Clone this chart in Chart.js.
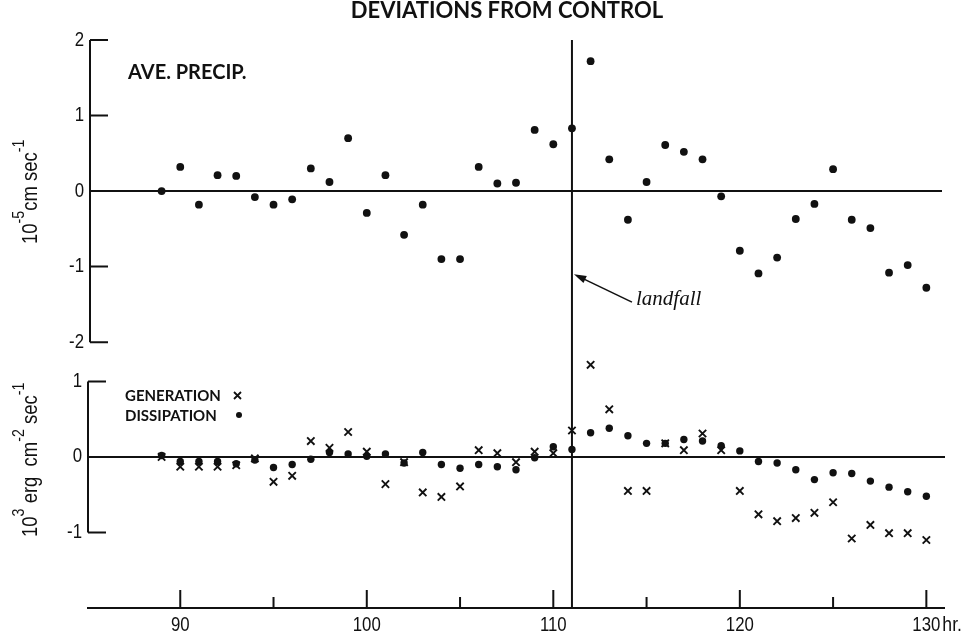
<!DOCTYPE html>
<html>
<head>
<meta charset="utf-8">
<title>Deviations from control</title>
<script src="https://cdn.jsdelivr.net/npm/chart.js@4.4.1/dist/chart.umd.min.js"></script>
<style>
  html, body { margin: 0; padding: 0; background: #fff; }
  #wrap { position: relative; width: 973px; height: 636px; }
</style>
</head>
<body>
<div id="wrap"><canvas id="chart" width="973" height="636"></canvas></div>
<script>
// hours after start of run
const hours = [89, 90, 91, 92, 93, 94, 95, 96, 97, 98, 99, 100, 101, 102, 103, 104, 105, 106, 107, 108, 109,
               110, 111, 112, 113, 114, 115, 116, 117, 118, 119, 120, 121, 122, 123, 124, 125, 126, 127, 128, 129, 130];

// average precipitation deviation, 10^-5 cm/sec
const precip = [0.00, 0.32, -0.18, 0.21, 0.20, -0.08, -0.18, -0.11, 0.30, 0.12, 0.70, -0.29, 0.21, -0.58, -0.18, -0.90, -0.90, 0.32, 0.10, 0.11, 0.81,
                0.62, 0.83, 1.72, 0.42, -0.38, 0.12, 0.61, 0.52, 0.42, -0.07, -0.79, -1.09, -0.88, -0.37, -0.17, 0.29, -0.38, -0.49, -1.08, -0.98, -1.28];

// kinetic energy generation / dissipation deviation, 10^3 erg/cm2/sec
const generation = [0.00, -0.13, -0.13, -0.13, -0.11, -0.02, -0.33, -0.25, 0.21, 0.12, 0.33, 0.07, -0.36, -0.07, -0.47, -0.53, -0.39, 0.09, 0.05, -0.07, 0.07,
                    0.05, 0.35, 1.22, 0.63, -0.45, -0.45, 0.18, 0.09, 0.31, 0.09, -0.45, -0.76, -0.85, -0.81, -0.74, -0.60, -1.08, -0.90, -1.01, -1.01, -1.10];
const dissipation = [0.02, -0.06, -0.06, -0.06, -0.09, -0.04, -0.14, -0.10, -0.03, 0.06, 0.04, 0.01, 0.04, -0.08, 0.06, -0.10, -0.15, -0.10, -0.13, -0.17, -0.01,
                     0.135, 0.10, 0.32, 0.38, 0.28, 0.18, 0.18, 0.23, 0.21, 0.15, 0.08, -0.06, -0.08, -0.17, -0.30, -0.21, -0.22, -0.32, -0.40, -0.46, -0.52];

const xMajorTicks = [90, 100, 110, 120, 130];
const xMinorTicks = [95, 105, 115, 125];
const precipTicks = [2, 1, 0, -1, -2];
const energyTicks = [1, 0, -1];
const landfallHour = 111;

const NUM_FONT = '"Liberation Sans", Arial, sans-serif';
const BOLD_FONT = 'Lato, "DejaVu Sans", sans-serif';
const INK = '#111';
const NARROW = 0.84;   // horizontal squeeze for the condensed figures

function toPoints(values) {
  return hours.map((h, i) => ({ x: h, y: values[i] }));
}

// condensed text: squeeze horizontally around the anchor point
function fillNarrow(ctx, text, x, y) {
  ctx.save();
  ctx.translate(x, y);
  ctx.scale(NARROW, 1);
  ctx.fillText(text, 0, 0);
  ctx.restore();
}

// rotated axis title made of normal and superscript runs
function drawRotatedTitle(ctx, x, y, runs, size) {
  ctx.save();
  ctx.translate(x, y);
  ctx.rotate(-Math.PI / 2);
  ctx.scale(NARROW, 1);
  ctx.textAlign = 'left';
  ctx.textBaseline = 'alphabetic';
  let pos = 0;
  runs.forEach(r => {
    ctx.font = (r.sup ? Math.round(size * 0.75) : size) + 'px ' + NUM_FONT;
    ctx.fillText(r.t, pos, r.sup ? -size * 0.6 : 0);
    pos += ctx.measureText(r.t).width;
  });
  ctx.restore();
}

const axesPlugin = {
  id: 'panelAxes',
  beforeDatasetsDraw(chart) {
    const { ctx, chartArea: area, scales } = chart;
    const xs = scales.x, yt = scales.yTop, yb = scales.yBot;
    ctx.save();
    ctx.strokeStyle = INK;
    ctx.fillStyle = INK;
    ctx.lineWidth = 2;
    ctx.lineCap = 'butt';

    // upper panel: vertical axis, inward ticks, zero line
    const topX = area.left + 3;
    ctx.beginPath();
    ctx.moveTo(topX, yt.getPixelForValue(2));
    ctx.lineTo(topX, yt.getPixelForValue(-2));
    precipTicks.forEach(v => {
      const py = yt.getPixelForValue(v);
      ctx.moveTo(topX, py);
      ctx.lineTo(topX + 18, py);
    });
    ctx.moveTo(topX, yt.getPixelForValue(0));
    ctx.lineTo(area.right - 3, yt.getPixelForValue(0));
    ctx.stroke();

    ctx.font = '20px ' + NUM_FONT;
    ctx.textAlign = 'right';
    ctx.textBaseline = 'middle';
    precipTicks.forEach(v => fillNarrow(ctx, String(v), topX - 6, yt.getPixelForValue(v)));

    // lower panel
    const botX = area.left + 1;
    ctx.beginPath();
    ctx.moveTo(botX, yb.getPixelForValue(1));
    ctx.lineTo(botX, yb.getPixelForValue(-1));
    energyTicks.forEach(v => {
      const py = yb.getPixelForValue(v);
      ctx.moveTo(botX, py);
      ctx.lineTo(botX + 18, py);
    });
    ctx.moveTo(botX, yb.getPixelForValue(0));
    ctx.lineTo(area.right, yb.getPixelForValue(0));
    ctx.stroke();
    energyTicks.forEach(v => fillNarrow(ctx, String(v), botX - 6, yb.getPixelForValue(v)));

    // time axis with upward ticks
    const base = area.bottom;
    ctx.beginPath();
    ctx.moveTo(area.left, base);
    ctx.lineTo(area.right, base);
    xMajorTicks.forEach(h => {
      const px = xs.getPixelForValue(h);
      ctx.moveTo(px, base);
      ctx.lineTo(px, base - 18);
    });
    xMinorTicks.forEach(h => {
      const px = xs.getPixelForValue(h);
      ctx.moveTo(px, base);
      ctx.lineTo(px, base - 11);
    });
    ctx.stroke();

    ctx.textAlign = 'center';
    ctx.textBaseline = 'alphabetic';
    xMajorTicks.forEach(h => fillNarrow(ctx, String(h), xs.getPixelForValue(h), base + 23));
    ctx.font = '21px ' + NUM_FONT;
    ctx.textAlign = 'left';
    fillNarrow(ctx, 'hr.', xs.getPixelForValue(130) + 16, base + 23);

    // landfall marker
    const lx = xs.getPixelForValue(landfallHour);
    ctx.beginPath();
    ctx.moveTo(lx, area.top);
    ctx.lineTo(lx, base);
    ctx.stroke();

    const tipX = lx + 2, tipY = yt.getPixelForValue(-1.1);
    const tailX = tipX + 58, tailY = tipY + 28;
    ctx.lineWidth = 1.6;
    ctx.beginPath();
    ctx.moveTo(tailX, tailY);
    ctx.lineTo(tipX + 8, tipY + 4);
    ctx.stroke();
    const ang = Math.atan2(tipY - tailY, tipX - tailX);
    ctx.beginPath();
    ctx.moveTo(tipX, tipY);
    ctx.lineTo(tipX - 13 * Math.cos(ang - 0.3), tipY - 13 * Math.sin(ang - 0.3));
    ctx.lineTo(tipX - 13 * Math.cos(ang + 0.3), tipY - 13 * Math.sin(ang + 0.3));
    ctx.closePath();
    ctx.fill();

    ctx.font = 'italic 21px "Liberation Serif", "DejaVu Serif", serif';
    ctx.fillText('landfall', tailX + 4, tailY + 3);
    ctx.restore();
  },
  afterDatasetsDraw(chart) {
    const { ctx } = chart;
    ctx.save();
    ctx.fillStyle = INK;
    ctx.strokeStyle = INK;

    ctx.font = 'bold 22px ' + BOLD_FONT;
    ctx.textAlign = 'center';
    ctx.textBaseline = 'alphabetic';
    ctx.fillText('DEVIATIONS FROM CONTROL', 507, 18);

    ctx.textAlign = 'left';
    ctx.font = 'bold 20px ' + BOLD_FONT;
    ctx.fillText('AVE. PRECIP.', 128, 79);

    ctx.font = 'bold 15px ' + BOLD_FONT;
    ctx.fillText('GENERATION', 125, 401);
    ctx.fillText('DISSIPATION', 125, 421);
    // legend markers
    ctx.lineWidth = 1.8;
    ctx.beginPath();
    ctx.moveTo(234, 392); ctx.lineTo(241, 399);
    ctx.moveTo(241, 392); ctx.lineTo(234, 399);
    ctx.stroke();
    ctx.beginPath();
    ctx.arc(239, 415, 3, 0, Math.PI * 2);
    ctx.fill();

    drawRotatedTitle(ctx, 37, 244, [
      { t: '10' }, { t: '-5', sup: true }, { t: 'cm sec' }, { t: '-1', sup: true }
    ], 22);
    drawRotatedTitle(ctx, 37, 537, [
      { t: '10' }, { t: '3', sup: true }, { t: ' erg  cm' }, { t: '-2', sup: true }, { t: ' sec' }, { t: '-1', sup: true }
    ], 22);
    ctx.restore();
  }
};

new Chart(document.getElementById('chart'), {
  type: 'scatter',
  data: {
    datasets: [
      {
        label: 'AVE. PRECIP.',
        data: toPoints(precip),
        yAxisID: 'yTop',
        pointStyle: 'circle',
        pointRadius: 3.9,
        backgroundColor: INK,
        borderWidth: 0
      },
      {
        label: 'GENERATION',
        data: toPoints(generation),
        yAxisID: 'yBot',
        pointStyle: 'crossRot',
        pointRadius: 5.2,
        borderColor: INK,
        borderWidth: 1.9
      },
      {
        label: 'DISSIPATION',
        data: toPoints(dissipation),
        yAxisID: 'yBot',
        pointStyle: 'circle',
        pointRadius: 3.7,
        backgroundColor: INK,
        borderWidth: 0
      }
    ]
  },
  options: {
    responsive: false,
    animation: false,
    devicePixelRatio: 1,
    layout: { padding: { left: 87, right: 28, top: 40, bottom: 28 } },
    plugins: { legend: { display: false }, tooltip: { enabled: false } },
    scales: {
      x: { type: 'linear', min: 85, max: 131, display: false },
      // both panels share one plotting area; the ranges place each panel in its own band
      yTop: { type: 'linear', min: -5.52, max: 2, display: false },
      yBot: { type: 'linear', min: -2, max: 5.52, display: false }
    }
  },
  plugins: [axesPlugin]
});
</script>
</body>
</html>
